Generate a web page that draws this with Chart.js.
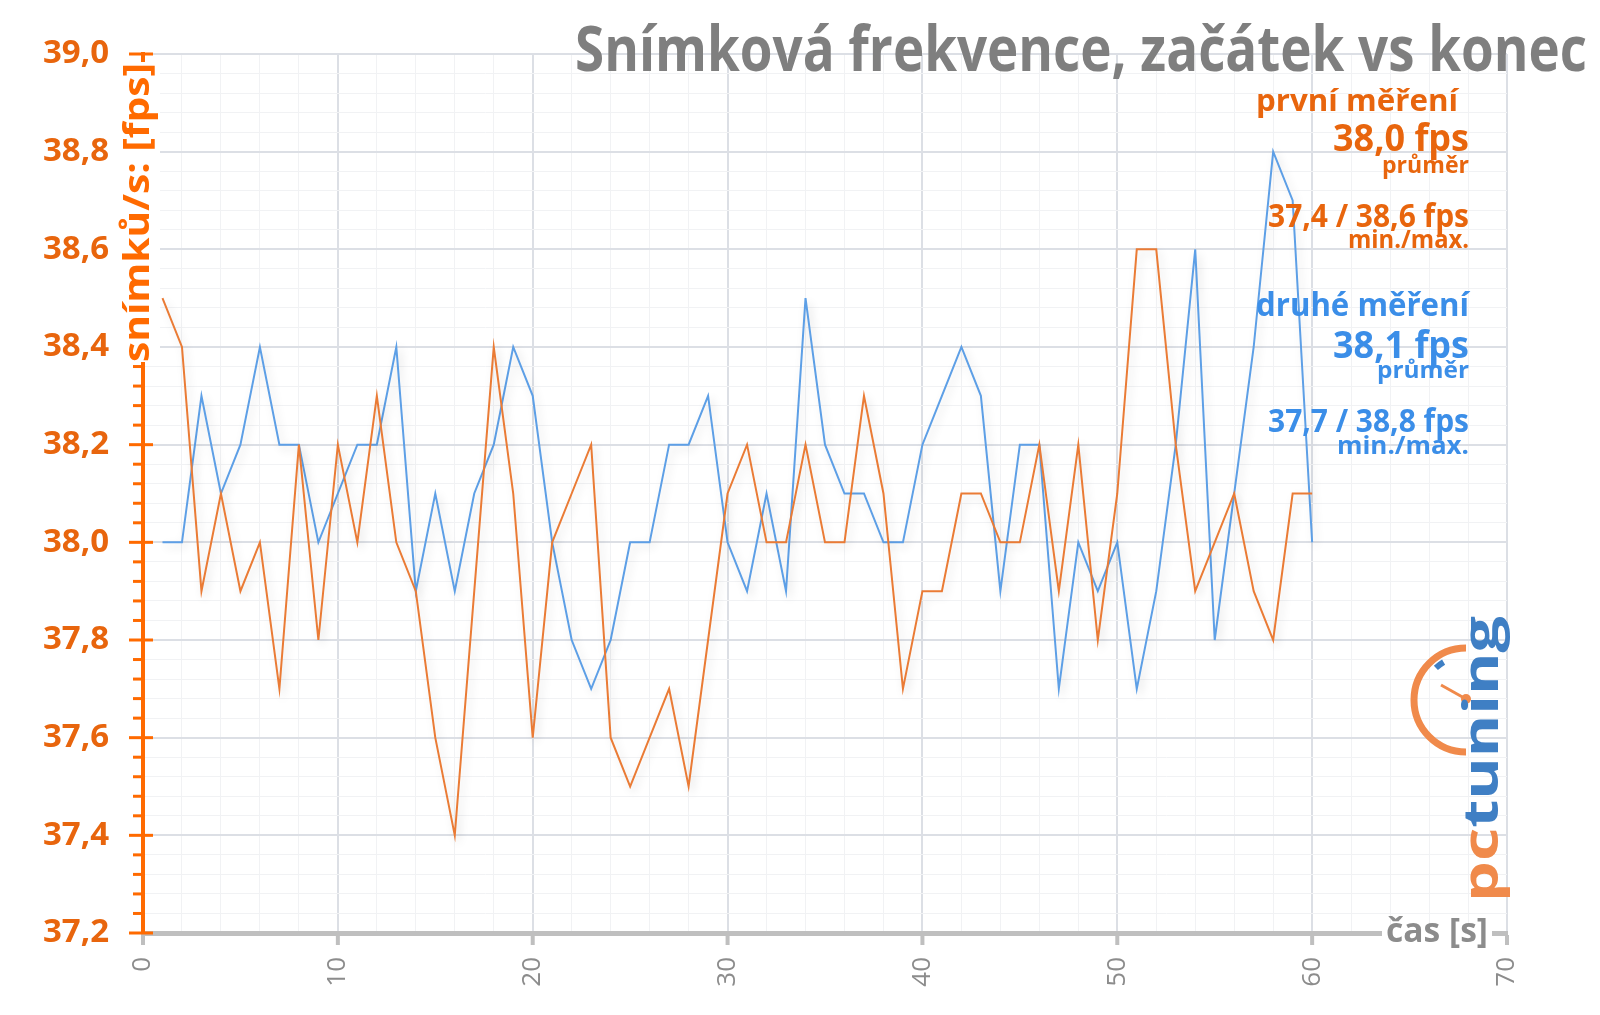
<!DOCTYPE html>
<html>
<head>
<meta charset="utf-8">
<script src="https://cdn.jsdelivr.net/npm/chart.js@4.4.0/dist/chart.umd.min.js"></script>
<style>
  html, body { margin: 0; padding: 0; background: #fff; }
  #wrap { width: 1600px; height: 1015px; }
</style>
</head>
<body>
<div id="wrap"><canvas id="fps" width="1600" height="1015"></canvas></div>
<script>
// time in seconds
const seconds = [1, 2, 3, 4, 5, 6, 7, 8, 9, 10, 11, 12, 13, 14, 15, 16, 17, 18, 19, 20,
  21, 22, 23, 24, 25, 26, 27, 28, 29, 30, 31, 32, 33, 34, 35, 36, 37, 38, 39, 40,
  41, 42, 43, 44, 45, 46, 47, 48, 49, 50, 51, 52, 53, 54, 55, 56, 57, 58, 59, 60];

// první měření (orange)
const firstRun = [38.5, 38.4, 37.9, 38.1, 37.9, 38.0, 37.7, 38.2, 37.8, 38.2,
  38.0, 38.3, 38.0, 37.9, 37.6, 37.4, 37.9, 38.4, 38.1, 37.6,
  38.0, 38.1, 38.2, 37.6, 37.5, 37.6, 37.7, 37.5, 37.8, 38.1,
  38.2, 38.0, 38.0, 38.2, 38.0, 38.0, 38.3, 38.1, 37.7, 37.9,
  37.9, 38.1, 38.1, 38.0, 38.0, 38.2, 37.9, 38.2, 37.8, 38.1,
  38.6, 38.6, 38.2, 37.9, 38.0, 38.1, 37.9, 37.8, 38.1, 38.1];

// druhé měření (blue)
const secondRun = [38.0, 38.0, 38.3, 38.1, 38.2, 38.4, 38.2, 38.2, 38.0, 38.1,
  38.2, 38.2, 38.4, 37.9, 38.1, 37.9, 38.1, 38.2, 38.4, 38.3,
  38.0, 37.8, 37.7, 37.8, 38.0, 38.0, 38.2, 38.2, 38.3, 38.0,
  37.9, 38.1, 37.9, 38.5, 38.2, 38.1, 38.1, 38.0, 38.0, 38.2,
  38.3, 38.4, 38.3, 37.9, 38.2, 38.2, 37.7, 38.0, 37.9, 38.0,
  37.7, 37.9, 38.2, 38.6, 37.8, 38.1, 38.4, 38.8, 38.7, 38.0];

const xTickLabels = ['0', '10', '20', '30', '40', '50', '60', '70'];
const yTickLabels = ['37,2', '37,4', '37,6', '37,8', '38,0', '38,2', '38,4', '38,6', '38,8', '39,0'];

const titleText = 'Snímková frekvence, začátek vs konec';
const yTitle = 'snímků/s: [fps]';
const xTitle = 'čas [s]';
const firstNotes = ['první měření', '38,0 fps', 'průměr', '37,4 / 38,6 fps', 'min./max.'];
const secondNotes = ['druhé měření', '38,1 fps', 'průměr', '37,7 / 38,8 fps', 'min./max.'];

const ORANGE_LINE = '#ea7b35';
const BLUE_LINE = '#5d9fe6';
const ORANGE_TEXT = '#e8650d';
const BLUE_TEXT = '#3b8ee8';
const AXIS_ORANGE = '#ff6a00';
const FONT = '"Open Sans", "Noto Sans", sans-serif';

const isMajorY = v => Math.abs(v * 5 - Math.round(v * 5)) < 1e-6;
const isMajorX = v => Math.abs(v % 10) < 1e-6;

// text squeezed to a given width (the original uses a narrow font)
function fitText(ctx, text, x, y, size, color, width, align) {
  ctx.save();
  ctx.font = 'bold ' + size + 'px ' + FONT;
  const w = ctx.measureText(text).width;
  const sx = width ? width / w : 1;
  ctx.translate(x, y);
  ctx.scale(sx, 1);
  ctx.textAlign = align || 'right';
  ctx.textBaseline = 'alphabetic';
  ctx.fillStyle = color;
  ctx.fillText(text, 0, 0);
  ctx.restore();
}

const decor = {
  id: 'decor',
  beforeDatasetDraw(chart) {
    const ctx = chart.ctx;
    ctx.save();
    ctx.shadowColor = 'rgba(0,0,0,0.14)';
    ctx.shadowBlur = 10;
    ctx.shadowOffsetX = 3;
    ctx.shadowOffsetY = 4;
  },
  afterDatasetDraw(chart) {
    chart.ctx.restore();
  },
  afterDraw(chart) {
    const { ctx, chartArea, scales } = chart;
    const ax = chartArea.left;
    const ay = chartArea.bottom;

    // y axis ticks
    ctx.save();
    ctx.strokeStyle = AXIS_ORANGE;
    ctx.lineWidth = 3;
    scales.y.ticks.forEach(t => {
      const py = scales.y.getPixelForValue(t.value);
      const major = isMajorY(t.value);
      ctx.beginPath();
      ctx.moveTo(ax - (major ? 14 : 10), py);
      ctx.lineTo(ax + (major ? 10 : 0), py);
      ctx.stroke();
    });
    // x axis ticks
    ctx.strokeStyle = '#bfbfbf';
    ctx.lineWidth = 4;
    scales.x.ticks.forEach(t => {
      if (!isMajorX(t.value)) return;
      const px = scales.x.getPixelForValue(t.value);
      ctx.beginPath();
      ctx.moveTo(px, ay + 2);
      ctx.lineTo(px, ay + 12);
      ctx.stroke();
    });

    // y title sits on the axis line
    ctx.fillStyle = '#fff';
    ctx.fillRect(ax - 17, 62, 34, 300);
    ctx.save();
    ctx.translate(ax - 4, 362);
    ctx.rotate(-Math.PI / 2);
    ctx.font = 'bold 36px ' + FONT;
    const yw = ctx.measureText(yTitle).width;
    ctx.scale(299 / yw, 1);
    ctx.textAlign = 'left';
    ctx.textBaseline = 'middle';
    ctx.fillStyle = AXIS_ORANGE;
    ctx.fillText(yTitle, 0, 0);
    ctx.restore();

    // x title on the axis line
    ctx.fillStyle = '#fff';
    ctx.fillRect(1382, 927, 110, 12);
    fitText(ctx, xTitle, 1386, 942, 34, '#8c8c8c', 102, 'left');

    // title
    fitText(ctx, titleText, 1587, 71, 63, '#7f7f7f', 1012, 'right');

    // notes
    fitText(ctx, firstNotes[0], 1458, 111, 31, ORANGE_TEXT, 202);
    fitText(ctx, firstNotes[1], 1469, 151, 37, ORANGE_TEXT, 136);
    fitText(ctx, firstNotes[2], 1469, 173, 24, ORANGE_TEXT, 87);
    fitText(ctx, firstNotes[3], 1469, 227, 32, ORANGE_TEXT, 201);
    fitText(ctx, firstNotes[4], 1469, 248, 25, ORANGE_TEXT, 121);
    fitText(ctx, secondNotes[0], 1469, 316, 32, BLUE_TEXT, 213);
    fitText(ctx, secondNotes[1], 1469, 358, 37, BLUE_TEXT, 136);
    fitText(ctx, secondNotes[2], 1469, 378, 24, BLUE_TEXT, 92);
    fitText(ctx, secondNotes[3], 1469, 432, 32, BLUE_TEXT, 201);
    fitText(ctx, secondNotes[4], 1469, 454, 25, BLUE_TEXT, 132);

    // pctuning logo
    ctx.strokeStyle = '#f08a4b';
    ctx.lineWidth = 7;
    ctx.beginPath();
    ctx.arc(1466, 700, 52, -Math.PI / 2, Math.PI / 2, true);
    ctx.stroke();
    ctx.strokeStyle = '#3f7fc4';
    ctx.lineWidth = 6;
    ctx.beginPath();
    ctx.arc(1466, 700, 44, -Math.PI * 0.74, -Math.PI * 0.67);
    ctx.stroke();
    ctx.strokeStyle = '#f08a4b';
    ctx.lineWidth = 3;
    ctx.beginPath();
    ctx.moveTo(1441, 685);
    ctx.lineTo(1466, 699);
    ctx.stroke();
    ctx.fillStyle = '#f08a4b';
    ctx.beginPath();
    ctx.arc(1466, 699, 5, 0, Math.PI * 2);
    ctx.fill();

    ctx.save();
    ctx.translate(1498, 902);
    ctx.rotate(-Math.PI / 2);
    ctx.font = 'bold 48px ' + FONT;
    const lw = ctx.measureText('pctuning').width;
    ctx.scale(286 / lw, 1);
    ctx.textAlign = 'left';
    ctx.textBaseline = 'alphabetic';
    ctx.fillStyle = '#f08a4b';
    ctx.fillText('pc', 0, 0);
    ctx.fillStyle = '#3f7fc4';
    ctx.fillText('tuning', ctx.measureText('pc').width, 0);
    ctx.restore();

    ctx.restore();
  }
};

new Chart(document.getElementById('fps'), {
  type: 'line',
  data: {
    datasets: [
      {
        label: 'první měření',
        data: seconds.map((s, i) => ({ x: s, y: firstRun[i] })),
        borderColor: ORANGE_LINE,
        borderWidth: 2,
        pointRadius: 0,
        tension: 0
      },
      {
        label: 'druhé měření',
        data: seconds.map((s, i) => ({ x: s, y: secondRun[i] })),
        borderColor: BLUE_LINE,
        borderWidth: 2,
        pointRadius: 0,
        tension: 0
      }
    ]
  },
  options: {
    responsive: false,
    animation: false,
    devicePixelRatio: 1,
    layout: { padding: { top: 54, right: 93, left: 0, bottom: 0 } },
    plugins: {
      legend: { display: false },
      tooltip: { enabled: false }
    },
    scales: {
      x: {
        type: 'linear',
        min: 0,
        max: 70,
        afterFit: s => { s.height = 82; },
        border: { color: '#bfbfbf', width: 5 },
        grid: {
          drawTicks: false,
          color: c => isMajorX(c.tick.value) ? '#dcdfe5' : '#f1f2f4',
          lineWidth: c => isMajorX(c.tick.value) ? 2 : 1
        },
        ticks: {
          stepSize: 2,
          autoSkip: false,
          maxRotation: 90,
          minRotation: 90,
          padding: 24,
          color: '#8c8c8c',
          font: { family: FONT, size: 26 },
          callback: v => isMajorX(v) ? xTickLabels[Math.round(v / 10)] : ''
        }
      },
      y: {
        min: 37.2,
        max: 39.0,
        afterFit: s => { s.width = 143; },
        border: { color: AXIS_ORANGE, width: 4 },
        grid: {
          drawTicks: false,
          color: c => isMajorY(c.tick.value) ? '#dcdfe5' : '#f1f2f4',
          lineWidth: c => isMajorY(c.tick.value) ? 2 : 1
        },
        ticks: {
          stepSize: 0.04,
          autoSkip: false,
          padding: 34,
          color: ORANGE_TEXT,
          font: { family: FONT, size: 33, weight: 'bold' },
          callback: v => isMajorY(v) ? yTickLabels[Math.round((v - 37.2) / 0.2)] : ''
        }
      }
    }
  },
  plugins: [decor]
});
</script>
</body>
</html>
